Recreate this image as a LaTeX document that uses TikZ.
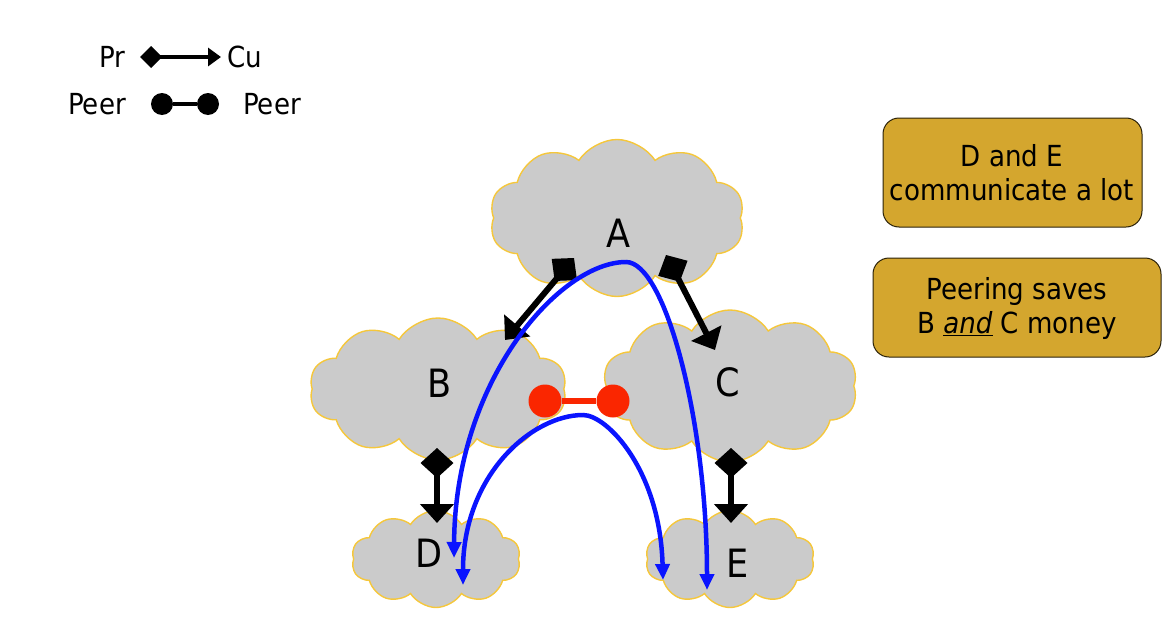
\documentclass[tikz,border=0pt]{standalone}
\usepackage{fontspec}
\setmainfont{DejaVu Sans Condensed}
\usetikzlibrary{arrows.meta,shapes.symbols}
\definecolor{cloudfill}{HTML}{CBCBCB}
\definecolor{cloudline}{HTML}{F5C73C}
\definecolor{boxfill}{HTML}{D4A62E}
\definecolor{peerred}{HTML}{FA2600}
\definecolor{pathblue}{HTML}{0A14FF}
\tikzset{
  as/.style={cloud, cloud puffs=10, cloud puff arc=115, cloud ignores aspect,
    fill=cloudfill, draw=cloudline, line width=1.4pt, inner sep=0pt},
  aslabel/.style={font=\fontsize{39}{39}\selectfont, anchor=base, inner sep=0pt},
  txt/.style={font=\fontsize{29}{34}\selectfont, inner sep=0pt},
  note/.style={rounded corners=16pt, fill=boxfill, draw=black!80!boxfill, line width=1pt},
  prcu/.style={line width=6pt, {Diamond[length=30pt,width=33pt]}-{Triangle[length=19pt,width=33pt]}},
  legprcu/.style={line width=3.5pt, {Diamond[length=22pt,width=22pt]}-{Triangle[length=13pt,width=18pt]}},
  flow/.style={draw=pathblue, line width=4.5pt, {Triangle[length=16pt,width=14pt]}-{Triangle[length=16pt,width=14pt]}},
}
\begin{document}
\begin{tikzpicture}[x=1pt,y=-1pt]
\useasboundingbox (0,0) rectangle (1162,629);
% legend
\node[txt, anchor=base] (pr) at (112,67) {Pr};
\node[txt, anchor=base] (cu) at (245,67) {Cu};
\coordinate (lpr) at (140,57);
\coordinate (lcu) at (221,57);
\draw[legprcu] (lpr) -- (lcu);
\node[txt, anchor=base] (peer1) at (97,114) {Peer};
\node[txt, anchor=base] (peer2) at (272,114) {Peer};
\node[circle, fill=black, minimum size=22pt, inner sep=0pt] (ld1) at (162,104) {};
\node[circle, fill=black, minimum size=22pt, inner sep=0pt] (ld2) at (208,104) {};
\draw[line width=4pt] (ld1) -- (ld2);
% clouds
\node[as, minimum width=255pt, minimum height=157pt] (A) at (617,218) {};
\node[as, minimum width=257pt, minimum height=142pt] (B) at (438,389) {};
\node[as, minimum width=255pt, minimum height=152pt] (C) at (730,386) {};
\node[as, minimum width=169pt, minimum height=97pt] (D) at (436,559) {};
\node[as, minimum width=169pt, minimum height=97pt] (E) at (730,559) {};
\node[aslabel] (la) at (618,247) {A};
\node[aslabel] (lb) at (440,397) {B};
\node[aslabel] (lc) at (728,396) {C};
\node[aslabel] (ld) at (429,567) {D};
\node[aslabel] (le) at (738,577) {E};
% provider-customer links
\coordinate (ab0) at (574,258);
\coordinate (ab1) at (505,340);
\coordinate (ac0) at (666,255);
\coordinate (ac1) at (715,350);
\coordinate (bd0) at (437,448);
\coordinate (bd1) at (437,523);
\coordinate (ce0) at (731,448);
\coordinate (ce1) at (731,523);
\draw[prcu] (ab0) -- (ab1);
\draw[prcu] (ac0) -- (ac1);
\draw[prcu] (bd0) -- (bd1);
\draw[prcu] (ce0) -- (ce1);
% peering link
\node[circle, fill=peerred, minimum size=33pt, inner sep=0pt] (p1) at (545,401) {};
\node[circle, fill=peerred, minimum size=33pt, inner sep=0pt] (p2) at (613,401) {};
\draw[peerred, line width=6pt] (p1) -- (p2);
% traffic paths
\coordinate (d1) at (454,558);
\coordinate (e1) at (707,590);
\coordinate (top1) at (626,262);
\draw[flow] (d1) .. controls (455,380) and (560,262) .. (top1)
  .. controls (665,262) and (707,420) .. (e1);
\coordinate (d2) at (463,585);
\coordinate (e2) at (663,580);
\coordinate (top2) at (583,415);
\draw[flow] (d2) .. controls (463,475) and (532,415) .. (top2)
  .. controls (607,415) and (660,470) .. (e2);
% notes
\draw[note] (883,118) rectangle (1142,227);
\node[txt, align=center] (n1) at (1012,173) {D and E\\communicate a lot};
\draw[note] (873,258) rectangle (1161,357);
\node[txt, align=center] (n2) at (1017,308) {Peering saves\\B \underline{\textit{and}} C money};
\end{tikzpicture}
\end{document}
